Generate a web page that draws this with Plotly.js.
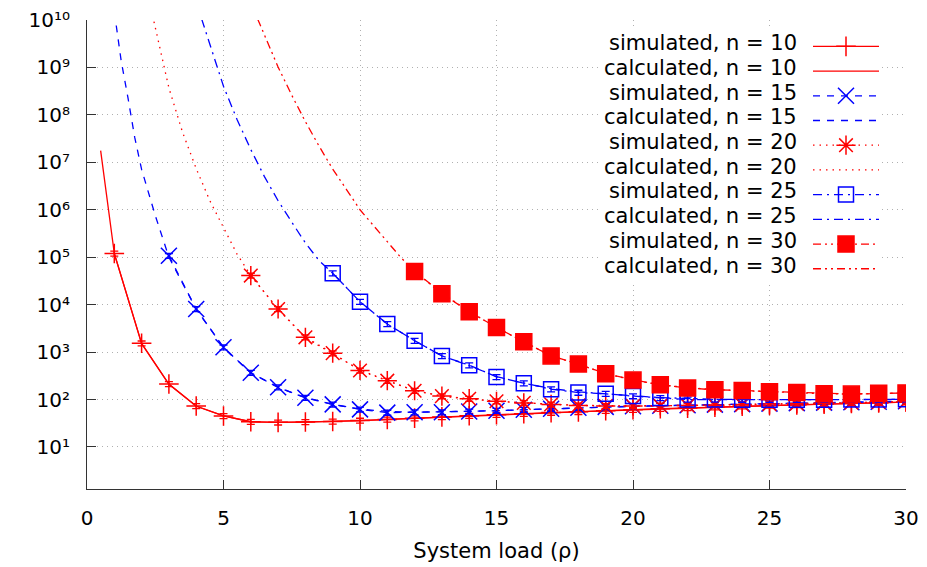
<!DOCTYPE html>
<html>
<head>
<meta charset="utf-8">
<script src="https://cdn.plot.ly/plotly-3.0.1.min.js"></script>
<style>html,body{margin:0;padding:0;background:#fff}#chart{width:927px;height:567px}</style>
</head>
<body>
<div id="chart"></div>
<script>
// ---- data ----
const simX10 = [1,2,3,4,5,6,7,8,9,10,11,12,13,14,15,16,17,18,19,20,21,22,23,24,25,26,27,28,29,30];
const sim10  = [1.2e5,1530,212,73,45,34,33,33.5,34.5,36,38,40.5,43,45.5,48,50,53,55,58,61,64,66,69,72,75,77,80,83,85,88];
const calcX10 = [0.5,1,2,3,4,5,6,7,8,9,10,11,12,13,14,15,16,17,18,19,20,21,22,23,24,25,26,27,28,29,30];
const calc10  = [1.76e7,1.2e5,1500,210,72,45,34,33,33.5,34.5,36,38,40.5,43,45.5,48,50.5,53,55.5,58,61,63.5,66,69,72,74.5,77,80,82.5,85,88];

const simX15 = [3,4,5,6,7,8,9,10,11,12,13,14,15,16,17,18,19,20,21,22,23,24,25,26,27,28,29,30];
const sim15  = [1.07e5,8100,1260,367,181,109,79,62,53,54,54,56,58,61,64,67,70,72,74,76,78,80,82,84,86,88,90,92];
const calcX15 = [1,1.25,1.5,1.75,2,2.5,3,4,5,6,7,8,9,10,11,12,13,14,15,16,17,18,19,20,21,22,23,24,25,26,27,28,29,30];
const calc15  = [1.5e10,1.4e9,2.3e8,3.3e7,7.1e6,7.6e5,1.0e5,8000,1250,365,180,110,79,63,56,54,55,56,58,61,64,67,70,72,74,76,78,80,82,84,86,88,90,92];

const simX20 = [6,7,8,9,10,11,12,13,14,15,16,17,18,19,20,21,22,23,24,25,26,27,28,29,30];
const sim20  = [41000,8100,2050,950,410,250,153,118,104,92,85,79,75,73,73,74,75,76,78,80,82,84,86,88,90];
const calcX20 = [2.4,2.5,3,3.5,4,4.5,5,5.5,6,7,8,9,10,11,12,13,14,15,16,17,18,19,20,21,22,23,24,25,26,27,28,29,30];
const calc20  = [1.26e10,6.9e9,3.7e8,4.3e7,7.4e6,1.55e6,4.1e5,1.15e5,41000,8000,2000,930,420,250,155,118,102,92,85,79,76,74,73,74,75,76,78,80,82,84,86,88,90];

const simX25 = [9,10,11,12,13,14,15,16,17,18,19,20,21,22,23,24,25,26,27,28,29,30];
const sim25  = [46000,11500,3900,1740,830,530,300,220,165,140,132,118,108,100,100,99,99,99,99,100,100,101];
const calcX25 = [4.2,4.5,5,5.5,6,6.5,7,7.5,8,8.5,9,10,11,12,13,14,15,16,17,18,19,20,21,22,23,24,25,26,27,28,29,30];
const calc25  = [1.05e10,2.95e9,4.0e8,7.9e7,1.86e7,5.0e6,1.55e6,5.5e5,2.0e5,8.5e4,4.6e4,11500,3900,1740,830,520,305,220,170,145,130,120,110,104,101,100,99,99,99,100,100,101];

const simX30 = [12,13,14,15,16,17,18,19,20,21,22,23,24,25,26,27,28,29,30];
const sim30  = [50000,17000,7100,3300,1650,830,560,350,257,205,175,160,155,146,140,132,130,136,138];
const calcX30 = [6.25,6.5,7,7.5,8,8.5,9,9.5,10,10.5,11,11.5,12,13,14,15,16,17,18,19,20,21,22,23,24,25,26,27,28,29,30];
const calc30  = [1.05e10,4.9e9,1.02e9,2.6e8,7.2e7,2.2e7,7.2e6,2.7e6,1.0e6,4.6e5,2.1e5,9.8e4,5.1e4,17500,7200,3300,1650,840,550,355,260,205,178,162,153,146,140,134,131,134,137];

const simErrPct = 12;
const seriesNames = ["simulated, n = 10","calculated, n = 10","simulated, n = 15","calculated, n = 15",
  "simulated, n = 20","calculated, n = 20","simulated, n = 25","calculated, n = 25",
  "simulated, n = 30","calculated, n = 30"];
const yTickVals = [1e1,1e2,1e3,1e4,1e5,1e6,1e7,1e8,1e9,1e10];
const yTickText = ["10¹","10²","10³","10⁴","10⁵","10⁶","10⁷","10⁸","10⁹","10¹⁰"];
const xTickVals = [0,5,10,15,20,25,30];
const xTitle = "System load (ρ)";

// ---- styles ----
const RED = "#ff0000", BLUE = "#0000ff";
const dashes = {s10:"solid", s15:"7px,7px", s20:"1.5px,5px", s25:"9px,5px,2px,5px", s30:"8px,4px,2px,4px,2px,4px"};

function sim(x, y, name, color, dash, symbol, size) {
  return {x:x, y:y, name:"", legendgroup:name, type:"scatter", mode:"lines+markers",
    line:{color:color, width:1.3, dash:dash},
    marker:{symbol:symbol, size:size, color:color, line:{color:color, width:1.5}},
    error_y:{type:"percent", value:simErrPct, color:color, thickness:1.3, width:4}};
}
function calc(x, y, name, color, dash) {
  return {x:x, y:y, name:"", legendgroup:name, type:"scatter", mode:"lines",
    line:{color:color, width:1.3, dash:dash}};
}

const traces = [
  sim(simX10, sim10, seriesNames[0], RED, dashes.s10, "cross-thin-open", 14),
  calc(calcX10, calc10, seriesNames[1], RED, dashes.s10),
  sim(simX15, sim15, seriesNames[2], BLUE, dashes.s15, "x-thin-open", 16),
  calc(calcX15, calc15, seriesNames[3], BLUE, dashes.s15),
  sim(simX20, sim20, seriesNames[4], RED, dashes.s20, "asterisk-open", 16),
  calc(calcX20, calc20, seriesNames[5], RED, dashes.s20),
  sim(simX25, sim25, seriesNames[6], BLUE, dashes.s25, "square-open", 15),
  calc(calcX25, calc25, seriesNames[7], BLUE, dashes.s25),
  sim(simX30, sim30, seriesNames[8], RED, dashes.s30, "square", 16),
  calc(calcX30, calc30, seriesNames[9], RED, dashes.s30)
];

// ---- layout geometry ----
const W = 927, H = 567, ML = 87, MR = 21, MT = 20, MB = 78;
const PW = W - ML - MR, PH = H - MT - MB;
const px2x = p => (p - ML) / PW;
const px2y = p => (H - MB - p) / PH;
const FONT = "DejaVu Sans, sans-serif";

// legend text drawn right-aligned, left of the legend samples (gnuplot style)
const rowTop = 43.3, rowStep = 24.7;
const annotations = seriesNames.map((t, i) => ({
  text:t, xref:"paper", yref:"paper", x:px2x(799), y:px2y(rowTop + i*rowStep),
  xanchor:"right", yanchor:"middle", showarrow:false,
  font:{family:FONT, size:21, color:"#000"}
}));

const layout = {
  width:W, height:H,
  margin:{l:ML, r:MR, t:MT, b:MB, pad:0},
  paper_bgcolor:"#fff", plot_bgcolor:"#fff",
  font:{family:FONT, size:20, color:"#000"},
  showlegend:true,
  legend:{x:px2x(808), xanchor:"left", y:px2y(29), yanchor:"top", bgcolor:"rgba(0,0,0,0)", borderwidth:0,
    font:{family:FONT, size:16.7, color:"#000"}, itemwidth:66, tracegroupgap:0, itemclick:false},
  shapes:[{type:"rect", xref:"paper", yref:"paper", x0:px2x(600), x1:px2x(882), y0:px2y(281), y1:px2y(30),
    fillcolor:"#fff", line:{width:0}, layer:"above"}],
  annotations:annotations,
  xaxis:{range:[0,30], tickvals:xTickVals, ticks:"inside", ticklen:9, tickcolor:"#333",
    showline:true, linecolor:"#333", linewidth:1, zeroline:false,
    showgrid:true, gridcolor:"#b0b0b0", gridwidth:1, griddash:"1px,4px",
    tickfont:{family:FONT, size:20}, ticklabelstandoff:11,
    title:{text:xTitle, font:{family:FONT, size:21}, standoff:14}},
  yaxis:{type:"log", range:[0.114, 10], tickvals:yTickVals, ticktext:yTickText,
    ticks:"inside", ticklen:9, tickcolor:"#333",
    showline:true, linecolor:"#333", linewidth:1, zeroline:false,
    showgrid:true, gridcolor:"#b0b0b0", gridwidth:1, griddash:"1px,4px",
    tickfont:{family:FONT, size:20}, ticklabelstandoff:12}
};

Plotly.newPlot("chart", traces, layout, {staticPlot:true, displayModeBar:false});
</script>
</body>
</html>
